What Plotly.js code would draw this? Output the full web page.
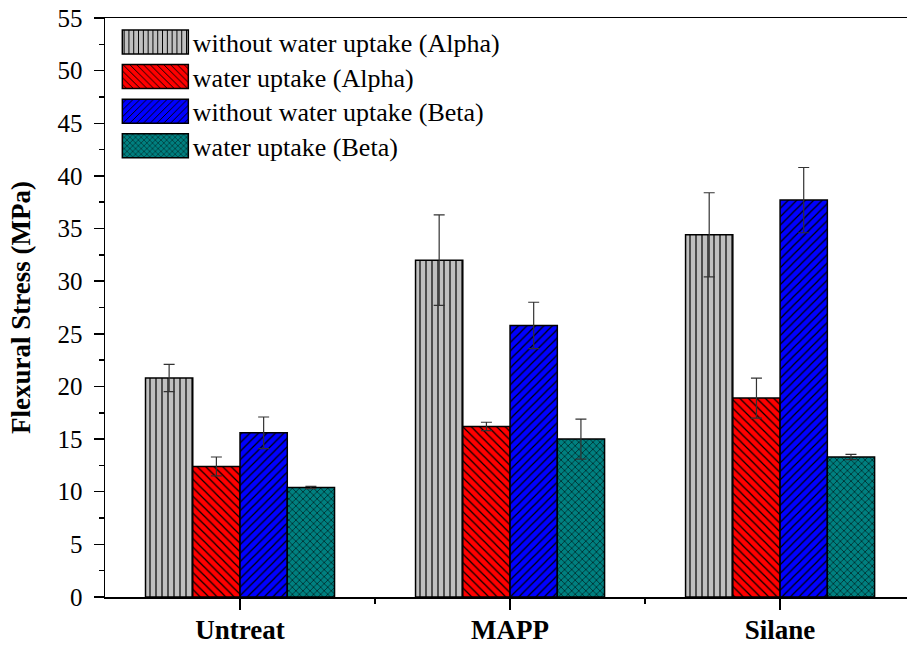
<!DOCTYPE html>
<html>
<head>
<meta charset="utf-8">
<script src="https://cdn.plot.ly/plotly-3.0.1.min.js"></script>
<style>html,body{margin:0;padding:0;background:#fff;}#chart{width:907px;height:646px;}</style>
</head>
<body>
<div id="chart"></div>
<script>
const categories = ["Untreat", "MAPP", "Silane"];
const seriesNames = ["without water uptake (Alpha)", "water uptake (Alpha)", "without water uptake (Beta)", "water uptake (Beta)"];
const alphaDry = [20.8, 32.0, 34.4];
const alphaDryErr = [1.3, 4.3, 4.0];
const alphaWet = [12.4, 16.2, 18.9];
const alphaWetErr = [0.9, 0.4, 1.9];
const betaDry = [15.6, 25.8, 37.7];
const betaDryErr = [1.5, 2.2, 3.1];
const betaWet = [10.4, 15.0, 13.3];
const betaWetErr = [0.1, 1.9, 0.25];
const yTicks = [0, 5, 10, 15, 20, 25, 30, 35, 40, 45, 50, 55];

const xIdx = categories.map((c, i) => i);
const boundaries = categories.slice(1).map((c, i) => i + 0.5);

const styles = [
  {color: "#c0c0c0", shape: "|", size: 6},
  {color: "#ff0000", shape: "\\", size: 6},
  {color: "#0000ff", shape: "/", size: 6},
  {color: "#008080", shape: "x", size: 5}
];
const values = [alphaDry, alphaWet, betaDry, betaWet];
const errs = [alphaDryErr, alphaWetErr, betaDryErr, betaWetErr];

const traces = values.map((v, k) => ({
  type: "bar",
  name: seriesNames[k],
  x: xIdx,
  y: v,
  marker: {
    color: styles[k].color,
    line: {color: "#000", width: 1.5},
    pattern: {shape: styles[k].shape, bgcolor: styles[k].color, fgcolor: "#000", size: styles[k].size, solidity: 0.2, fillmode: "replace"}
  },
  error_y: {type: "data", array: errs[k], visible: true, color: "#333", thickness: 1.2, width: 5.5}
}));

const font = "'Liberation Serif', 'Times New Roman', serif";
const layout = {
  width: 907, height: 646,
  margin: {l: 105, r: 0, t: 18, b: 49},
  paper_bgcolor: "#fff", plot_bgcolor: "#fff",
  barmode: "group", bargap: 0.3, bargroupgap: 0,
  font: {family: font, color: "#000"},
  showlegend: true,
  legend: {x: 0.016, y: 0.999, xanchor: "left", yanchor: "top", bgcolor: "rgba(0,0,0,0)", font: {family: font, size: 26, color: "#000"}, itemwidth: 65},
  xaxis: {
    range: [-0.5, 2.47],
    tickmode: "array", tickvals: xIdx, ticktext: categories.map(c => "<b>" + c + "</b>"),
    ticks: "outside", ticklen: 11, tickwidth: 1.5, tickcolor: "#000",
    ticklabelstandoff: -3,
    showline: true, linecolor: "#000", linewidth: 1.5, mirror: true,
    showgrid: false, zeroline: false,
    tickfont: {family: font, size: 27, color: "#000"},
    minor: {tickmode: "array", tickvals: boundaries, ticks: "outside", ticklen: 5, tickwidth: 1.5, tickcolor: "#000", showgrid: false}
  },
  yaxis: {
    range: [0, 55],
    tickmode: "array", tickvals: yTicks,
    ticks: "outside", ticklen: 10, tickwidth: 1.5, tickcolor: "#000",
    ticklabelstandoff: 6,
    showline: true, linecolor: "#000", linewidth: 1.5,
    showgrid: false, zeroline: false,
    tickfont: {family: font, size: 25, color: "#000"},
    minor: {dtick: 2.5, ticks: "outside", ticklen: 5, tickwidth: 1.5, tickcolor: "#000", showgrid: false},
    title: {text: "<b>Flexural Stress (MPa)</b>", font: {family: font, size: 27, color: "#000"}, standoff: 19}
  }
};

Plotly.newPlot("chart", traces, layout, {displayModeBar: false, staticPlot: true}).then(gd => {
  // enlarge legend swatches to the wide rectangles of the original figure
  gd.querySelectorAll(".legend .legendpoints path").forEach(p => {
    p.setAttribute("d", "M33,12H-33V-12H33Z");
  });
  // tighten legend row spacing slightly (original rows are ~35px apart)
  const items = Array.from(gd.querySelectorAll(".legend .traces"));
  const parse = t => { const m = /translate\(\s*([-\d.]+)[ ,]+([-\d.]+)\s*\)/.exec(t || ""); return m ? [parseFloat(m[1]), parseFloat(m[2])] : null; };
  const pos = items.map(g => parse(g.getAttribute("transform")));
  if (pos.length && pos.every(p => p)) {
    const y0 = pos[0][1];
    items.forEach((g, i) => {
      const ny = y0 + (pos[i][1] - y0) * 0.94;
      g.setAttribute("transform", "translate(" + pos[i][0] + "," + ny + ")");
    });
  }
});
</script>
</body>
</html>
